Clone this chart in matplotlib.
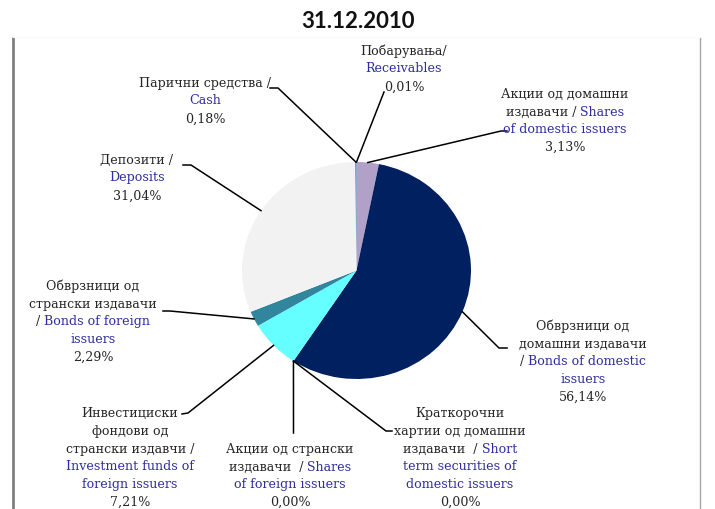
import numpy as np
import matplotlib
matplotlib.use("Agg")
import matplotlib.pyplot as plt
from matplotlib.offsetbox import TextArea, HPacker, AnnotationBbox

# data, clockwise from 12 o'clock
categories = ["Receivables", "Shares of domestic issuers", "Bonds of domestic issuers",
              "Short term securities of domestic issuers", "Shares of foreign issuers",
              "Investment funds of foreign issuers", "Bonds of foreign issuers",
              "Deposits", "Cash"]
shares = [0.01, 3.13, 56.14, 0.00, 0.00, 7.21, 2.29, 31.04, 0.18]
colors = ["#9DC3E6", "#B1A0C7", "#002060", "#1F497D", "#4BACC6",
          "#66FFFF", "#31859C", "#F2F2F2", "#4F81BD"]

# label text: lines of (text, is_english)
label_lines = [
    [[("Побарувања/", 0)], [("Receivables", 1)]],
    [[("Акции од домашни", 0)], [("издавачи / ", 0), ("Shares", 1)],
     [("of domestic issuers", 1)]],
    [[("Обврзници од", 0)], [("домашни издавачи", 0)],
     [("/ ", 0), ("Bonds of domestic", 1)], [("issuers", 1)]],
    [[("Краткорочни", 0)], [("хартии од домашни", 0)],
     [("издавачи  / ", 0), ("Short", 1)], [("term securities of", 1)],
     [("domestic issuers", 1)]],
    [[("Акции од странски", 0)], [("издавачи  / ", 0), ("Shares", 1)],
     [("of foreign issuers", 1)]],
    [[("Инвестициски", 0)], [("фондови од", 0)], [("странски издавчи /", 0)],
     [("Investment funds of", 1)], [("foreign issuers", 1)]],
    [[("Обврзници од", 0)], [("странски издавачи", 0)],
     [("/ ", 0), ("Bonds of foreign", 1)], [("issuers", 1)]],
    [[("Депозити /", 0)], [("Deposits", 1)]],
    [[("Парични средства /", 0)], [("Cash", 1)]],
]

# layout (pixels, y down)
W, H = 715, 510
cx, cy, rx, ry = 356.5, 271.5, 114.5, 108.5
label_pos = [(404, 69), (565, 121), (583, 362), (460, 458), (290, 476),
             (130, 458), (93, 322), (137, 178), (205, 101)]
# leader line: label end, elbow (None = straight)
leader = [((384, 93), None), ((507, 132), (501, 132)), ((507, 349), (499, 349)),
          ((392, 432), (386, 432)), ((293.5, 434), None), ((182, 415), (188, 414)),
          ((163, 312), (170, 312)), ((183, 166), (191, 166)), ((270, 89), (278, 89))]
pitch = 17.8
fs = 9.1
txt_black = "#262626"
txt_blue = "#2E2E9E"

fig = plt.figure(figsize=(W / 100, H / 100), dpi=100)

m = 1.05
pie_ax = fig.add_axes([(cx - rx * m) / W, (H - (cy + ry * m)) / H,
                       2 * rx * m / W, 2 * ry * m / H])
wedges, _ = pie_ax.pie(shares, colors=colors, startangle=90, counterclock=False,
                       radius=1, wedgeprops=dict(linewidth=0))
pie_ax.set_xlim(-m, m)
pie_ax.set_ylim(-m, m)
pie_ax.set_aspect("auto")
pie_ax.axis("off")

ax = fig.add_axes([0, 0, 1, 1])
ax.set_xlim(0, W)
ax.set_ylim(H, 0)
ax.axis("off")

# frame
ax.plot([13, 13], [38, H], color="#808080", lw=2, solid_capstyle="butt")
ax.plot([700, 700], [38, H], color="#A6A6A6", lw=1, solid_capstyle="butt")
ax.plot([13, 700], [38, 38], color="#FAFAFA", lw=0.8)

ax.text(358, 21, "31.12.2010", ha="center", va="center", fontsize=16,
        fontweight="bold", family="Lato", color="#111111")

# leader lines from wedge mid angles
frac = np.array(shares) / sum(shares)
cum = np.cumsum(frac) - frac / 2
for i, (start, elbow) in enumerate(leader):
    th = 2 * np.pi * cum[i]
    ax_pt = (cx + rx * np.sin(th), cy - ry * np.cos(th))
    pts = [start] + ([elbow] if elbow else []) + [ax_pt]
    xs, ys = zip(*pts)
    ax.plot(xs, ys, color="black", lw=1.1)

# labels
for i, lines in enumerate(label_lines):
    pct = f"{shares[i]:.2f}".replace(".", ",") + "%"
    lines = lines + [[(pct, 0)]]
    x0, yc = label_pos[i]
    n = len(lines)
    for j, parts in enumerate(lines):
        y = yc + (j - (n - 1) / 2) * pitch
        kids = [TextArea(s, textprops=dict(color=txt_blue if e else txt_black,
                                           fontsize=fs, family="DejaVu Serif"))
                for s, e in parts]
        box = HPacker(children=kids, align="baseline", pad=0, sep=0)
        ab = AnnotationBbox(box, (x0, y), xycoords="data", frameon=False,
                            box_alignment=(0.5, 0.5), pad=0)
        ax.add_artist(ab)

fig.savefig("out.png", dpi=100)
